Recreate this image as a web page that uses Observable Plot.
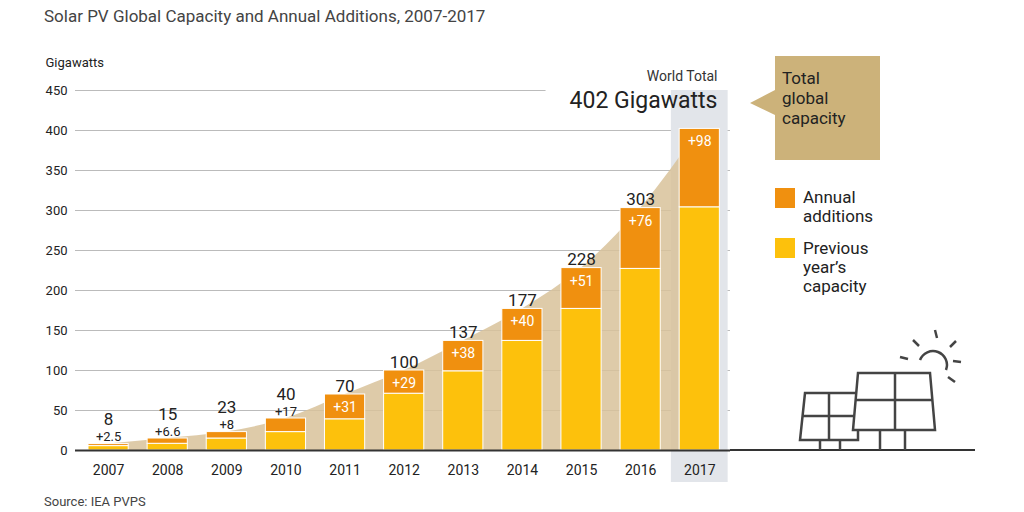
<!DOCTYPE html><html><head><meta charset="utf-8">
<script src="https://cdn.jsdelivr.net/npm/d3@7"></script>
<script src="https://cdn.jsdelivr.net/npm/@observablehq/plot@0.6"></script>
<style>body{margin:0;font-family:Roboto,"Noto Sans",sans-serif;background:#fff}#w{position:relative;width:1024px;height:512px;overflow:hidden}
.t{position:absolute;color:#333}</style></head><body><div id="w"></div>
<script>
const years=[2007,2008,2009,2010,2011,2012,2013,2014,2015,2016,2017];
const totals=[8,15,23,40,70,100,137,177,228,303,402];
const additions=[2.5,6.6,8,17,31,29,38,40,51,76,98];
const yTicks=[0,50,100,150,200,250,300,350,400,450];
const data=years.map((y,i)=>({year:y,total:totals[i],add:additions[i],prev:totals[i]-additions[i]}));
const w=0.34;
const orange="#F0900F",yellow="#FDC10C";
const small=data.filter(d=>d.year<=2010), big=data.filter(d=>d.year>2010);
const plot=Plot.plot({width:1024,height:512,marginLeft:75,marginRight:294,marginTop:90,marginBottom:62,
 style:{fontFamily:"Roboto, sans-serif",fontSize:"13px",color:"#222",overflow:"visible"},
 x:{domain:[2006.44,2017.52],axis:null},
 y:{domain:[0,450],ticks:yTicks,tickSize:0,tickPadding:8,label:null,tickFormat:d=>d},
 marks:[
  Plot.ruleY(yTicks.filter(t=>t>0&&t<450),{x1:2006.44,x2:2017.52,stroke:"#bbb",strokeWidth:1}),
  Plot.ruleY([450],{x1:2006.44,x2:2014.4,stroke:"#bbb"}),
  Plot.rect([0],{x1:2016.52,x2:2017.48,y1:-40,y2:450,fill:"#E2E5EA"}),
  Plot.areaY(data,{x:d=>d.year,y:"total",fill:"#D8C29A",fillOpacity:0.85,curve:"monotone-x"}),
  Plot.rectY(data,{x1:d=>d.year-w,x2:d=>d.year+w,y1:0,y2:"prev",fill:yellow,stroke:"#fff",strokeWidth:1}),
  Plot.rectY(data,{x1:d=>d.year-w,x2:d=>d.year+w,y1:"prev",y2:"total",fill:orange,stroke:"#fff",strokeWidth:1}),
  Plot.text(data,{x:"year",y:-25,text:d=>String(d.year),fontSize:14,fill:"#222"}),
  Plot.text(small,{x:"year",y:"total",text:d=>String(d.total),dy:-19,lineAnchor:"bottom",fontSize:17,fill:"#222"}),
  Plot.text(small,{x:"year",y:"total",text:d=>"+"+d.add,dy:-3,lineAnchor:"bottom",fontSize:13,fill:"#222"}),
  Plot.text(big.filter(d=>d.year<2017),{x:"year",y:"total",text:d=>String(d.total),dy:-3,lineAnchor:"bottom",fontSize:17,fill:"#222"}),
  Plot.text(big,{x:"year",y:"total",text:d=>"+"+d.add,dy:13,fontSize:14,fill:"#fff"}),
  Plot.ruleY([0],{x1:2006.44,x2:2017.52,stroke:"#333",strokeWidth:2}),
  Plot.text(["World Total"],{x:2017.52,y:467,text:d=>d,textAnchor:"end",dx:-13,fontSize:14,fill:"#333"}),
  Plot.text(["402 Gigawatts"],{x:2017.52,y:437,text:d=>d,textAnchor:"end",dx:-13,fontSize:23,fill:"#222"}),
  Plot.text(["Gigawatts"],{x:2006.44,y:485,text:d=>d,textAnchor:"start",dx:-30,fontSize:13,fill:"#222"})
 ]});
const wr=document.getElementById("w");
plot.style.position="absolute";plot.style.left="0";plot.style.top="0";
wr.appendChild(plot);
wr.insertAdjacentHTML("beforeend",`
<div class="t" style="left:44px;top:6px;font-size:17px;color:#444">Solar PV Global Capacity and Annual Additions, 2007-2017</div>
<div class="t" style="left:44px;top:494px;font-size:13px;color:#444">Source: IEA PVPS</div>
<svg style="position:absolute;left:0;top:0" width="1024" height="512">
<polygon points="775,56 880,56 880,160 775,160 775,115 750,103 775,90" fill="#CCB27A"/>
<rect x="775" y="188" width="20" height="20" fill="${orange}"/>
<rect x="775" y="238" width="20" height="20" fill="${yellow}"/>
<line x1="730" y1="450" x2="975" y2="450" stroke="#333" stroke-width="2"/>
<g fill="#fff" stroke="#444" stroke-width="2.5">
<polygon points="805,393 858,393 858,440 800,440"/>
<line x1="829" y1="393" x2="829" y2="440"/><line x1="803" y1="416" x2="858" y2="416"/>
<line x1="820" y1="440" x2="820" y2="450"/><line x1="840" y1="440" x2="840" y2="450"/>
<polygon points="858,373 930,373 935,430 853,430"/>
<line x1="895" y1="373" x2="895" y2="430"/><line x1="856" y1="400" x2="933" y2="400"/>
<line x1="880" y1="430" x2="880" y2="450"/><line x1="905" y1="430" x2="905" y2="450"/>
<path d="M920,360 A13,13 0 1 1 946,370" fill="none"/>
<line x1="935" y1="330" x2="937" y2="338"/><line x1="913" y1="340" x2="919" y2="346"/><line x1="956" y1="341" x2="950" y2="347"/><line x1="961" y1="362" x2="953" y2="361"/><line x1="955" y1="382" x2="948" y2="377"/><line x1="900" y1="357" x2="908" y2="359"/>
</g></svg>
<div class="t" style="left:782px;top:68px;font-size:17px;line-height:20px;color:#222">Total<br>global<br>capacity</div>
<div class="t" style="left:803px;top:188px;font-size:17px;line-height:19px;color:#222">Annual<br>additions</div>
<div class="t" style="left:803px;top:239px;font-size:17px;line-height:19px;color:#222">Previous<br>year’s<br>capacity</div>
`);
</script></body></html>
